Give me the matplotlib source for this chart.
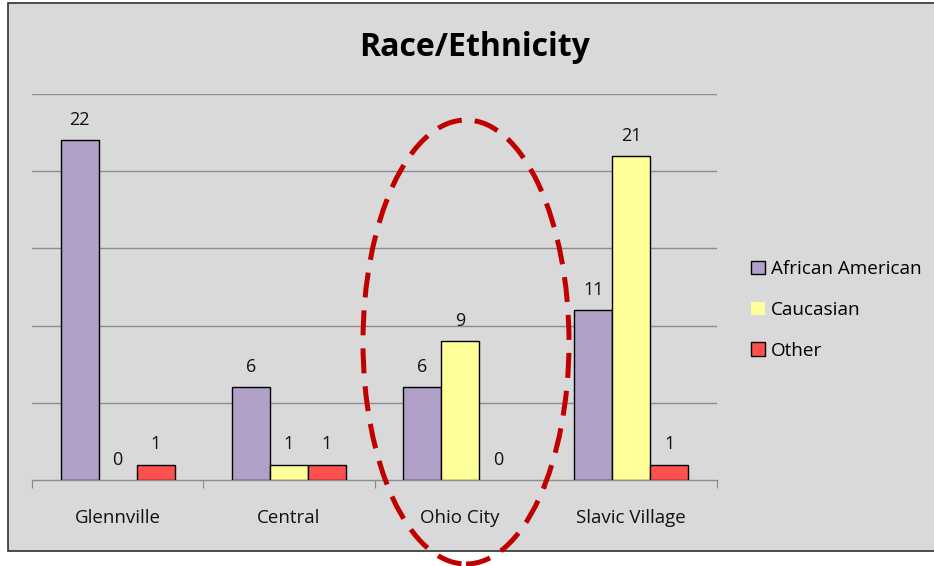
import matplotlib
matplotlib.use("Agg")
import matplotlib.pyplot as plt
import numpy as np
from matplotlib.patches import Rectangle, Ellipse

categories = ["Glennville", "Central", "Ohio City", "Slavic Village"]
series_names = ["African American", "Caucasian", "Other"]
african_american = [22, 6, 6, 11]
caucasian = [0, 1, 9, 21]
other = [1, 1, 0, 1]
colors = ["#B1A0C7", "#FFFF99", "#FF5050"]

W, H = 934, 566
fig = plt.figure(figsize=(W / 100, H / 100), dpi=100)
fig.patch.set_facecolor("white")

# chart area background with border
bg = Rectangle((8 / W, 1 - 551 / H), (W + 10 - 8) / W, (551 - 3) / H,
               transform=fig.transFigure, facecolor="#D9D9D9",
               edgecolor="#303030", linewidth=1.2, zorder=-5)
fig.patches.append(bg)

ax = fig.add_axes([32 / W, 1 - 480 / H, (717 - 32) / W, (480 - 94) / H])
ax.set_facecolor("none")
ax.set_xlim(0, len(categories))
ax.set_ylim(0, 25)

x = np.arange(len(categories)) + 0.5
bw = 0.222
data = [african_american, caucasian, other]
for i, (vals, c) in enumerate(zip(data, colors)):
    pos = x + (i - 1) * bw
    lws = [1.0 if v > 0 else 0.0 for v in vals]
    ax.bar(pos, vals, width=bw, color=c, edgecolor="black", linewidth=lws,
           label=series_names[i], zorder=3)
    for px, v in zip(pos, vals):
        ax.annotate(str(v), (px, v), xytext=(0, 8), textcoords="offset points",
                    ha="center", va="bottom", fontsize=13,
                    family="Open Sans", color="#111111")

ax.set_yticks([5, 10, 15, 20, 25])
ax.yaxis.grid(True, color="#8C8C8C", linewidth=1.0, zorder=1)
ax.set_axisbelow(True)
ax.tick_params(axis="y", left=False, labelleft=False)
for s in ["left", "right", "top"]:
    ax.spines[s].set_visible(False)
ax.spines["bottom"].set_color("#8C8C8C")
ax.spines["bottom"].set_linewidth(1.0)

ax.set_xticks(np.arange(len(categories) + 1))
ax.tick_params(axis="x", which="major", length=6, color="#8C8C8C",
               labelbottom=False)
ax.set_xticks(x, minor=True)
ax.set_xticklabels(categories, minor=True, fontsize=13.5, family="Open Sans",
                   color="#111111")
ax.tick_params(axis="x", which="minor", length=0, pad=21)

fig.text(475 / W, 1 - 47 / H, "Race/Ethnicity", ha="center", va="center",
         fontsize=23, fontweight="bold", family="Open Sans")

handles, labels = ax.get_legend_handles_labels()
leg = fig.legend(handles, labels, loc="center left",
                 bbox_to_anchor=(734 / W, 1 - 310 / H),
                 frameon=False, prop={"family": "Open Sans", "size": 13.6},
                 handlelength=0.72, handleheight=0.72, handletextpad=0.35,
                 labelspacing=1.2)

ell = Ellipse((466 / W, 1 - 342 / H), 206 / W, 444 / H,
              transform=fig.transFigure, fill=False, edgecolor="#C00000",
              linewidth=3.6, linestyle=(0, (5, 2.6)), zorder=10)
fig.patches.append(ell)

fig.savefig("out.png", dpi=100, facecolor="white")
